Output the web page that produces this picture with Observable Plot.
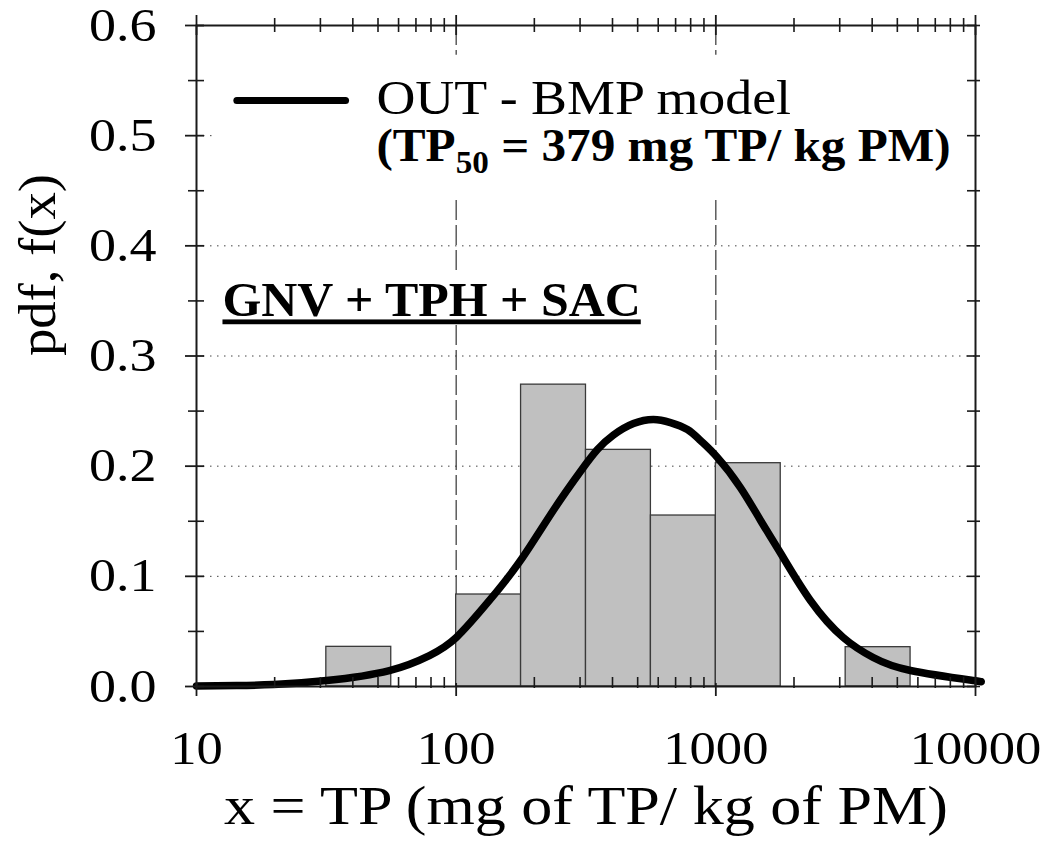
<!DOCTYPE html>
<html>
<head>
<meta charset="utf-8">
<script src="https://cdn.jsdelivr.net/npm/d3@7"></script>
<script src="https://cdn.jsdelivr.net/npm/@observablehq/plot@0.6"></script>
<style>
html, body { margin: 0; padding: 0; background: #fff; }
</style>
</head>
<body>
<div id="chart"></div>
<script>
// ---- data ----
const binLo  = [31.62, 100, 177.8, 316.2, 562.3, 1000, 3162];
const binHi  = [56.23, 177.8, 316.2, 562.3, 1000, 1778, 5623];
const binPdf = [0.036, 0.0835, 0.274, 0.2148, 0.1552, 0.2027, 0.0357];

const curveX = [10, 14.26, 19.83, 31.68, 55.3, 78.88, 100.1, 134.3, 177.0, 236.5, 301.0, 350.0, 403.4, 481.7, 575.1, 668.7, 777.3, 872.4, 1014, 1243.5, 1487, 1779, 2313, 3095, 4037, 5617, 9818, 10000];
const curveY = [0.0005, 0.0009, 0.0018, 0.0054, 0.0145, 0.0281, 0.0445, 0.0781, 0.1144, 0.1598, 0.1952, 0.2151, 0.2283, 0.2387, 0.2424, 0.2396, 0.2333, 0.2233, 0.2079, 0.1806, 0.1507, 0.1207, 0.0781, 0.0445, 0.0263, 0.0145, 0.0054, 0.0050];

const xMajorTicks = [10, 100, 1000, 10000];
const xMinorTicks = [20, 30, 40, 50, 60, 70, 80, 90, 200, 300, 400, 500, 600, 700, 800, 900, 2000, 3000, 4000, 5000, 6000, 7000, 8000, 9000];
const yMajorTicks = [0, 0.1, 0.2, 0.3, 0.4, 0.5, 0.6];
const yMinorTicks = [0.05, 0.15, 0.25, 0.35, 0.45, 0.55];
const gridY = [0.1, 0.2, 0.3, 0.4, 0.5];
const refX = [100, 1000];

const legendLabel = "OUT - BMP model";
const legendNote = "(TP50 = 379 mg TP/ kg PM)";
const groupLabel = "GNV + TPH + SAC";
const xTitle = "x = TP (mg of TP/ kg of PM)";
const yTitle = "pdf, f(x)";

// ---- tables built from the arrays ----
const bins = binLo.map((lo, i) => ({lo, hi: binHi[i], p: binPdf[i]}));
const curve = curveX.map((x, i) => ({x, y: curveY[i]}));
const yAllTicks = yMajorTicks.concat(yMinorTicks);
const fmtX = d => String(d);
const fmtY = d => d.toFixed(1);

const ink = "#1a1a1a";
const FONT = "'Liberation Serif', 'Times New Roman', serif";

const svg = Plot.plot({
  width: 1044,
  height: 851,
  marginLeft: 196,
  marginRight: 69,
  marginTop: 25,
  marginBottom: 165,
  x: {type: "log", domain: [10, 10000], axis: null},
  y: {domain: [0, 0.6], axis: null},
  style: {fontFamily: FONT, background: "white", color: "black", overflow: "visible"},
  marks: [
    // grid
    Plot.ruleY(gridY, {y: d => d, stroke: "#444", strokeWidth: 1, strokeDasharray: "1.5,5.5"}),
    Plot.ruleX(refX, {x: d => d, stroke: "#333", strokeWidth: 1.2, strokeDasharray: "20,5"}),
    // white boxes behind annotations
    Plot.rect([0], {x1: 11.8, x2: 10000, y1: 0.443, y2: 0.573, fill: "white"}),
    Plot.rect([0], {x1: 11.8, x2: 536, y1: 0.3277, y2: 0.3776, fill: "white"}),
    // histogram
    Plot.rect(bins, {x1: "lo", x2: "hi", y1: 0, y2: "p", fill: "#c0c0c0", stroke: "#3a3a3a", strokeWidth: 1.3}),
    // model curve
    Plot.line(curve, {x: "x", y: "y", stroke: "black", strokeWidth: 7.5, curve: "natural"}),
    // legend
    Plot.line([{x: 14.3, y: 0.532}, {x: 37.5, y: 0.532}], {x: "x", y: "y", stroke: "black", strokeWidth: 7}),
    Plot.text([legendLabel], {x: 49.3, y: 0.534, text: d => d, textAnchor: "start", fontSize: 49, fill: "black"}),
    Plot.text([legendNote], {x: 49.3, y: 0.4905, text: d => d, textAnchor: "start", fontSize: 46, fontWeight: "bold", fill: "black"}),
    Plot.text([groupLabel], {x: 12.59, y: 0.3498, text: d => d, textAnchor: "start", fontSize: 48, fontWeight: "bold", fill: "black"}),
    // frame
    Plot.frame({stroke: ink, strokeWidth: 2}),
    // bottom ticks
    Plot.ruleX(xMajorTicks, {x: d => d, y1: 0, y2: 0, insetTop: -3, insetBottom: -10, stroke: ink, strokeWidth: 1.8}),
    Plot.ruleX(xMinorTicks, {x: d => d, y1: 0, y2: 0, insetTop: -9, insetBottom: -2, stroke: ink, strokeWidth: 1.6}),
    // top ticks
    Plot.ruleX(xMajorTicks, {x: d => d, y1: 0.6, y2: 0.6, insetTop: -10, insetBottom: -10, stroke: ink, strokeWidth: 1.8}),
    Plot.ruleX(xMinorTicks, {x: d => d, y1: 0.6, y2: 0.6, insetTop: -7, insetBottom: -7, stroke: ink, strokeWidth: 1.6}),
    // left ticks
    Plot.ruleY(yMajorTicks, {y: d => d, x1: 10, x2: 10, insetLeft: -11, insetRight: -8, stroke: ink, strokeWidth: 1.8}),
    Plot.ruleY(yMinorTicks, {y: d => d, x1: 10, x2: 10, insetLeft: -8, insetRight: -8, stroke: ink, strokeWidth: 1.6}),
    // right ticks
    Plot.ruleY(yAllTicks, {y: d => d, x1: 10000, x2: 10000, insetLeft: -8, insetRight: -5, stroke: ink, strokeWidth: 1.6}),
    // tick labels
    Plot.text(xMajorTicks, {x: d => d, y: 0, dy: 62, text: fmtX, fontSize: 47, fill: "black"}),
    Plot.text(yMajorTicks, {x: 10, y: d => d, dx: -40, text: fmtY, textAnchor: "end", fontSize: 47, fill: "black"}),
    // axis titles
    Plot.text([xTitle], {frameAnchor: "bottom", dy: 137, text: d => d, fontSize: 54, fill: "black"}),
    Plot.text([yTitle], {frameAnchor: "left", dx: -158, rotate: -90, text: d => d, fontSize: 52, fill: "black"})
  ]
});

// ---- post-processing of typesetting details ----
const allText = Array.from(svg.querySelectorAll("text"));
const byContent = s => allText.filter(t => t.textContent === s);

function stretchEl(t, s) {
  let tr = t.getAttribute("transform");
  if (!tr) {
    const x = t.getAttribute("x") || 0, y = t.getAttribute("y") || 0;
    t.removeAttribute("x"); t.removeAttribute("y");
    tr = `translate(${x},${y})`;
  }
  t.setAttribute("transform", tr + ` scale(${s},1)`);
}
xMajorTicks.map(fmtX).forEach(s => byContent(s).forEach(t => stretchEl(t, 1.12)));
yMajorTicks.map(fmtY).forEach(s => byContent(s).forEach(t => stretchEl(t, 1.15)));
byContent(xTitle).forEach(t => stretchEl(t, 1.15));
byContent(yTitle).forEach(t => stretchEl(t, 1.05));
byContent(legendLabel).forEach(t => stretchEl(t, 1.1));
byContent(groupLabel).forEach(t => stretchEl(t, 1.04));

// subscript in the legend note
byContent(legendNote).forEach(note => {
  const ns = "http://www.w3.org/2000/svg";
  const m = note.textContent.match(/^\(TP(\d+)(.*)$/);
  if (!m) return;
  note.textContent = "";
  const a = document.createElementNS(ns, "tspan"); a.textContent = "(TP";
  const b = document.createElementNS(ns, "tspan"); b.textContent = m[1];
  b.setAttribute("font-size", "31"); b.setAttribute("dy", "12");
  const c = document.createElementNS(ns, "tspan"); c.textContent = m[2];
  c.setAttribute("dy", "-12");
  note.append(a, b, c);
  stretchEl(note, 1.07);
});
// underline the group label
byContent(groupLabel).forEach(t => { t.style.textDecoration = "underline"; });

document.getElementById("chart").appendChild(svg);
</script>
</body>
</html>
